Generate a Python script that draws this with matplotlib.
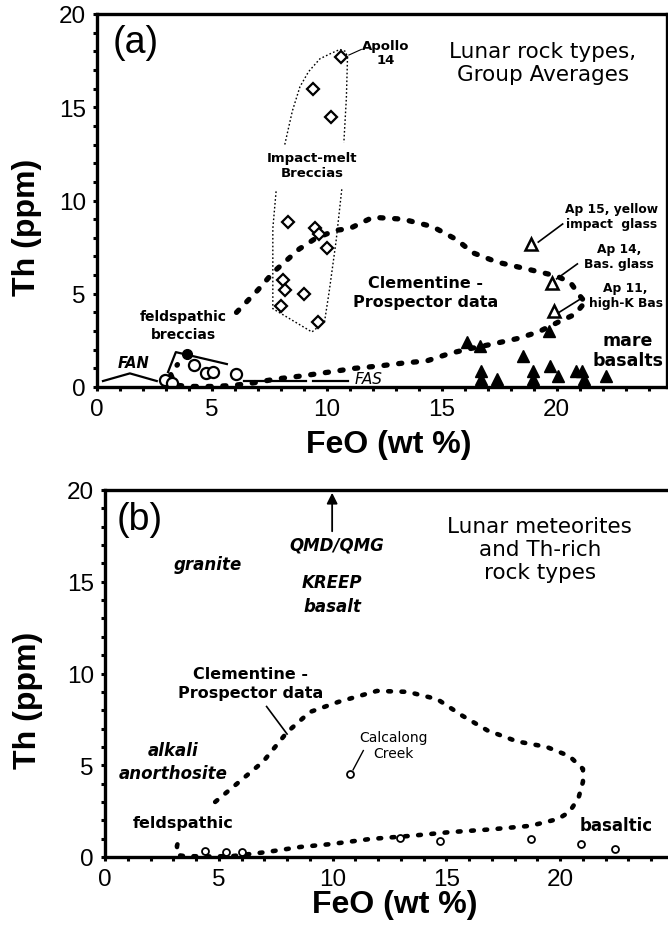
import numpy as np
from matplotlib import pyplot as plt
from matplotlib.ticker import MultipleLocator, FixedLocator

plt.rcParams['font.family'] = ['DejaVu Sans']

# ---- panel (a) data ----
# impact-melt breccias (open diamonds)
imb_x = [9.4, 10.2, 10.6, 8.3, 9.5, 9.66, 10.0, 8.1, 8.2, 9.0, 8.0, 9.6]
imb_y = [16.0, 14.5, 17.7, 8.85, 8.55, 8.2, 7.45, 5.74, 5.2, 5.0, 4.35, 3.5]

# envelope around the impact-melt breccias (dotted, two pieces)
env_top_x = [8.17, 8.5, 8.83, 9.2, 9.7, 10.2, 10.57, 10.8, 10.9, 10.85, 10.74]
env_top_y = [13.0, 14.8, 16.1, 16.9, 17.6, 17.9, 18.1, 18.0, 17.7, 15.5, 13.1]
env_bot_x = [10.65, 10.4, 10.1, 9.9, 9.35, 7.65, 7.65, 7.8]
env_bot_y = [10.6, 7.8, 5.1, 3.5, 2.95, 4.2, 8.5, 10.6]

# mare basalts (filled triangles)
mare_x = [16.1, 16.65, 18.55, 19.65, 16.7, 16.7, 17.4, 18.95, 18.95, 19.7, 20.05, 20.85, 21.1, 21.2, 22.15]
mare_y = [2.4, 2.2, 1.67, 3.0, 0.86, 0.43, 0.43, 0.86, 0.43, 1.13, 0.58, 0.86, 0.86, 0.43, 0.58]
# glasses / high-K (open triangles)
glass_x = [18.9, 19.8, 19.9]
glass_y = [7.65, 5.6, 4.05]

# feldspathic breccias (open circles) and the one filled circle
feld_x = [2.96, 3.26, 4.2, 4.74, 5.04, 6.04]
feld_y = [0.38, 0.2, 1.18, 0.75, 0.8, 0.7]
feld_avg_x = [3.9]
feld_avg_y = [1.77]

# Clementine - Prospector outline, panel (a)
clem_a_up_x = [6.07, 7.0, 7.67, 8.8, 9.55, 10.4, 11.0, 12.0, 13.3, 14.6, 15.65, 16.35, 17.4, 18.8, 20.0, 20.6, 21.0, 21.2]
clem_a_up_y = [4.0, 5.2, 6.15, 7.4, 8.0, 8.4, 8.5, 9.1, 9.0, 8.6, 7.9, 7.2, 6.7, 6.3, 5.95, 5.6, 4.9, 4.6]
clem_a_lo_x = [21.1, 20.8, 20.1, 19.2, 18.3, 17.2, 16.2, 15.35, 14.35, 13.3, 12.3, 11.2, 10.1, 8.96,
               7.8, 6.8, 5.9, 5.0, 4.0, 3.4, 3.2, 3.5]
clem_a_lo_y = [4.35, 3.9, 3.5, 2.95, 2.6, 2.3, 2.05, 1.8, 1.4, 1.28, 1.13, 1.0, 0.8, 0.6,
               0.43, 0.22, 0.08, 0.03, 0.03, 0.1, 0.7, 1.2]

# guide lines for FAN, feldspathic breccias and FAS
fan_x = [0.26, 1.43, 2.6]
fan_y = [0.32, 0.73, 0.32]
fbr_x = [3.09, 3.43, 5.65]
fbr_y = [0.8, 1.87, 1.23]
fas1_x = [6.4, 9.1]
fas2_x = [9.4, 10.9]
fas_y = [0.32, 0.32]

# ---- panel (b) data ----
clem_b_x = [4.84, 5.9, 6.95, 8.0, 9.0, 10.25, 11.95, 13.3, 14.6, 15.7, 16.8, 18.1, 19.4, 20.4, 21.0, 21.0,
            20.8, 20.4, 19.9, 18.7, 16.9, 15.2, 13.4, 11.65, 9.9, 8.6, 7.1, 5.6, 4.5, 3.5, 3.2, 3.16, 3.3]
clem_b_y = [3.0, 4.1, 5.2, 6.8, 7.9, 8.45, 9.05, 9.0, 8.6, 7.7, 6.9, 6.3, 6.0, 5.5, 4.8, 4.1,
            3.2, 2.45, 2.07, 1.7, 1.5, 1.36, 1.15, 0.98, 0.7, 0.55, 0.27, 0.05, 0.03, 0.05, 0.1, 0.6, 1.15]
met_x = [4.4, 5.3, 6.0, 10.77, 12.97, 14.7, 18.7, 20.9, 22.4]
met_y = [0.33, 0.27, 0.27, 4.5, 1.04, 0.87, 1.0, 0.7, 0.44]

x_ticks = [0, 5, 10, 15, 20]
y_ticks = [0, 5, 10, 15, 20]

W, H = 668, 928
fig = plt.figure(figsize=(W / 100, H / 100), dpi=100)

ax_a = fig.add_axes([97 / W, 1 - 388 / H, 570 / W, 373 / H])
ax_b = fig.add_axes([105 / W, 1 - 858 / H, 569 / W, 367 / H])


def style_axes(ax, xmax):
    ax.set_xlim(0, xmax)
    ax.set_ylim(0, 20)
    ax.xaxis.set_major_locator(FixedLocator(x_ticks))
    ax.yaxis.set_major_locator(FixedLocator(y_ticks))
    ax.xaxis.set_minor_locator(MultipleLocator(1))
    ax.yaxis.set_minor_locator(MultipleLocator(1))
    ax.tick_params(which='both', direction='out', length=3, width=2.2, pad=5,
                   top=False, right=False)
    for lab in ax.get_xticklabels() + ax.get_yticklabels():
        lab.set_family('Liberation Sans')
        lab.set_fontsize(17.5)
    for s in ax.spines.values():
        s.set_linewidth(2.4)
    ax.set_ylabel('Th (ppm)', family='Liberation Sans', fontsize=23, fontweight='bold')
    ax.set_xlabel('FeO (wt %)', family='Liberation Sans', fontsize=23, fontweight='bold')


style_axes(ax_a, 24.8)
style_axes(ax_b, 25)
ax_a.yaxis.set_label_coords(-0.097, 0.43)
ax_a.xaxis.set_label_coords(0.512, -0.112)
ax_b.yaxis.set_label_coords(-0.109, 0.43)
ax_b.xaxis.set_label_coords(0.51, -0.086)
ax_b.spines['right'].set_visible(False)

dot_a = dict(color='black', lw=3.8, dashes=(0.6, 2.2), dash_capstyle='round', solid_capstyle='round')
dot_b = dict(color='black', lw=3.3, dashes=(0.6, 2.3), dash_capstyle='round', solid_capstyle='round')

# ---- panel (a) ----
a = ax_a
a.plot(env_top_x, env_top_y, color='black', lw=1.0, ls=(0, (1.2, 1.6)))
a.plot(env_bot_x, env_bot_y, color='black', lw=1.0, ls=(0, (1.2, 1.6)))
a.plot(clem_a_up_x, clem_a_up_y, **dot_a)
a.plot(clem_a_lo_x, clem_a_lo_y, **dot_a)
a.plot(imb_x, imb_y, 'D', ms=6, mfc='white', mec='black', mew=1.6, ls='none')
a.plot(mare_x, mare_y, '^', ms=8, color='black', ls='none', clip_on=False)
a.plot(glass_x, glass_y, '^', ms=8, mfc='white', mec='black', mew=1.8, ls='none')
a.plot(feld_x, feld_y, 'o', ms=8, mfc='white', mec='black', mew=1.6, ls='none')
a.plot(feld_avg_x, feld_avg_y, 'o', ms=7, color='black', ls='none')
a.plot(fan_x, fan_y, color='black', lw=1.6)
a.plot(fbr_x, fbr_y, color='black', lw=1.6)
a.plot(fas1_x, fas_y, color='black', lw=1.6)
a.plot(fas2_x, fas_y, color='black', lw=1.6)

a.text(1.7, 18.5, '(a)', fontsize=27, ha='center', va='center', family='Liberation Sans')
a.text(19.4, 17.4, 'Lunar rock types,\nGroup Averages', fontsize=15.5, ha='center', va='center')
a.text(12.57, 17.94, 'Apollo\n14', fontsize=9.5, fontweight='bold', ha='center', va='center',
       linespacing=1.05)
a.plot([11.5, 10.96], [18.1, 17.8], color='black', lw=0.8)
a.text(9.35, 11.9, 'Impact-melt\nBreccias', fontsize=9.5, fontweight='bold', ha='center', va='center')
a.text(3.74, 3.32, 'feldspathic\nbreccias', fontsize=10, fontweight='bold', ha='center', va='center',
       linespacing=1.35)
a.text(1.57, 1.33, 'FAN', fontsize=10.5, fontweight='bold', style='italic', ha='center', va='center')
a.text(11.8, 0.47, 'FAS', fontsize=11, style='italic', ha='center', va='center')
a.text(14.3, 5.1, 'Clementine -\nProspector data', fontsize=11.5, fontweight='bold',
       ha='center', va='center', linespacing=1.35)
a.text(22.4, 9.17, 'Ap 15, yellow\nimpact  glass', fontsize=8.8, fontweight='bold', ha='center', va='center')
a.plot([20.26, 19.2], [8.74, 7.77], color='black', lw=1.2)
a.text(22.7, 7.0, 'Ap 14,\nBas. glass', fontsize=8.8, fontweight='bold', ha='center', va='center')
a.plot([20.9, 20.0], [6.6, 5.8], color='black', lw=1.2)
a.text(23.0, 4.93, 'Ap 11,\nhigh-K Bas', fontsize=8.8, fontweight='bold', ha='center', va='center')
a.plot([21.1, 20.1], [4.77, 4.0], color='black', lw=1.2)
a.text(23.1, 1.98, 'mare\nbasalts', fontsize=12.5, fontweight='bold', ha='center', va='center')

# ---- panel (b) ----
b = ax_b
b.plot(clem_b_x, clem_b_y, **dot_b)
b.plot(met_x, met_y, 'o', ms=5, mfc='white', mec='black', mew=1.3, ls='none')

b.text(1.54, 18.4, '(b)', fontsize=27, ha='center', va='center', family='Liberation Sans')
b.annotate('', xy=(9.98, 20.0), xytext=(9.98, 17.6),
           arrowprops=dict(arrowstyle='-|>', color='black', lw=1.3, mutation_scale=16))
bi = dict(fontsize=12, fontweight='bold', style='italic', ha='center', va='center')
b.text(10.2, 17.05, 'QMD/QMG', **bi)
b.text(9.98, 15.0, 'KREEP', **bi)
b.text(10.0, 13.7, 'basalt', **bi)
b.text(4.53, 15.97, 'granite', **bi)
b.text(3.0, 5.2, 'alkali\nanorthosite', linespacing=1.35, **bi)
b.text(19.1, 16.8, 'Lunar meteorites\nand Th-rich\nrock types', fontsize=15.5, ha='center', va='center')
b.text(6.4, 9.5, 'Clementine -\nProspector data', fontsize=11.5, fontweight='bold',
       ha='center', va='center', linespacing=1.35)
b.plot([7.1, 8.0], [8.2, 6.7], color='black', lw=1.2)
b.text(3.42, 1.9, 'feldspathic', fontsize=11.5, fontweight='bold', ha='center', va='center')
b.text(12.67, 6.1, 'Calcalong\nCreek', fontsize=10, ha='center', va='center')
b.plot([11.35, 10.9], [5.8, 4.75], color='black', lw=1.0)
b.text(22.45, 1.75, 'basaltic', fontsize=12, fontweight='bold', ha='center', va='center')

fig.savefig('out.png', dpi=100)
